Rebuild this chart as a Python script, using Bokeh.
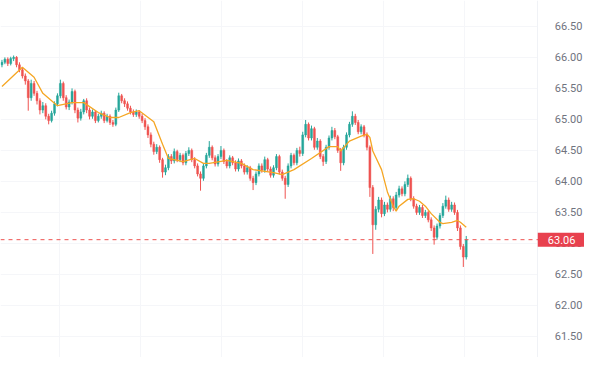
from bokeh.plotting import figure
from bokeh.models import (ColumnDataSource, FixedTicker, PrintfTickFormatter, Span, Label,
                          BoxAnnotation)
from bokeh.embed import file_html
from bokeh.resources import INLINE

# ---- data ----
first_open = 65.88
closes = [
    65.92, 65.97, 65.90, 65.98, 66.00, 65.88, 65.80, 65.70, 65.62, 65.35,
    65.58, 65.42, 65.30, 65.15, 65.22, 65.05, 64.98, 65.10, 65.25, 65.38,
    65.58, 65.35, 65.20, 65.28, 65.45, 65.15, 65.02, 65.12, 65.30, 65.15,
    65.05, 65.12, 64.98, 65.05, 65.10, 64.98, 65.05, 64.95, 64.92, 65.15,
    65.38, 65.30, 65.25, 65.18, 65.12, 65.08, 65.12, 65.05, 64.98, 64.88,
    64.75, 64.60, 64.48, 64.55, 64.35, 64.15, 64.22, 64.40, 64.33, 64.48,
    64.35, 64.42, 64.30, 64.45, 64.50, 64.35, 64.25, 64.12, 64.05, 64.25,
    64.42, 64.55, 64.38, 64.28, 64.40, 64.50, 64.32, 64.25, 64.38, 64.30,
    64.20, 64.33, 64.25, 64.15, 64.22, 64.05, 63.98, 64.12, 64.25, 64.18,
    64.35, 64.20, 64.10, 64.22, 64.40, 64.15, 64.05, 63.95, 64.25, 64.42,
    64.30, 64.50, 64.45, 64.75, 64.92, 64.70, 64.85, 64.55, 64.65, 64.40,
    64.32, 64.55, 64.70, 64.82, 64.72, 64.50, 64.30, 64.55, 64.75, 64.92,
    65.05, 64.95, 64.80, 64.88, 64.75, 64.55, 63.90, 63.30, 63.55, 63.70,
    63.48, 63.62, 63.55, 63.72, 63.58, 63.78, 63.88, 63.80, 63.95, 64.05,
    63.72, 63.60, 63.50, 63.58, 63.45, 63.50, 63.38, 63.25, 63.10, 63.28,
    63.45, 63.60, 63.70, 63.55, 63.62, 63.50, 63.25, 62.95, 62.78, 63.06,
]
highs = [
    65.96, 66.00, 66.00, 66.01, 66.03, 66.02, 65.92, 65.84, 65.74, 65.65,
    65.64, 65.62, 65.46, 65.34, 65.28, 65.26, 65.09, 65.14, 65.29, 65.42,
    65.64, 65.61, 65.39, 65.32, 65.50, 65.48, 65.19, 65.17, 65.33, 65.34,
    65.19, 65.16, 65.15, 65.09, 65.14, 65.13, 65.09, 65.08, 64.99, 65.19,
    65.43, 65.41, 65.34, 65.29, 65.22, 65.16, 65.16, 65.15, 65.09, 65.02,
    64.92, 64.79, 64.64, 64.60, 64.58, 64.38, 64.27, 64.44, 64.44, 64.53,
    64.51, 64.46, 64.45, 64.49, 64.55, 64.53, 64.39, 64.29, 64.16, 64.29,
    64.46, 64.65, 64.58, 64.42, 64.44, 64.57, 64.53, 64.36, 64.42, 64.41,
    64.34, 64.37, 64.36, 64.29, 64.26, 64.25, 64.09, 64.16, 64.29, 64.29,
    64.40, 64.38, 64.24, 64.26, 64.44, 64.43, 64.19, 64.09, 64.29, 64.46,
    64.45, 64.54, 64.56, 64.80, 64.99, 64.95, 64.90, 64.88, 64.70, 64.68,
    64.44, 64.59, 64.74, 64.88, 64.86, 64.75, 64.54, 64.59, 64.79, 64.96,
    65.13, 65.09, 64.99, 64.92, 64.91, 64.79, 64.58, 63.94, 63.60, 63.75,
    63.74, 63.67, 63.66, 63.77, 63.76, 63.83, 63.93, 63.92, 64.00, 64.11,
    64.08, 63.76, 63.64, 63.62, 63.62, 63.54, 63.53, 63.42, 63.29, 63.32,
    63.49, 63.65, 63.77, 63.74, 63.67, 63.66, 63.54, 63.29, 62.99, 63.12,
]
lows = [
    65.84, 65.89, 65.86, 65.87, 65.94, 65.84, 65.76, 65.66, 65.56, 65.14,
    65.30, 65.38, 65.24, 65.08, 65.10, 65.00, 64.92, 64.95, 65.06, 65.21,
    65.34, 65.30, 65.16, 65.15, 65.24, 65.10, 64.95, 64.98, 65.08, 65.10,
    65.00, 65.01, 64.94, 64.95, 65.01, 64.94, 64.95, 64.91, 64.88, 64.89,
    65.12, 65.26, 65.20, 65.14, 65.08, 65.04, 65.04, 65.01, 64.94, 64.83,
    64.70, 64.55, 64.43, 64.44, 64.30, 64.06, 64.10, 64.18, 64.28, 64.29,
    64.31, 64.31, 64.26, 64.26, 64.41, 64.31, 64.21, 64.08, 63.85, 64.01,
    64.21, 64.38, 64.34, 64.24, 64.24, 64.36, 64.28, 64.21, 64.21, 64.26,
    64.16, 64.16, 64.21, 64.11, 64.11, 64.01, 63.86, 63.94, 64.08, 64.14,
    64.14, 64.16, 64.06, 64.06, 64.18, 64.11, 64.01, 63.72, 63.91, 64.21,
    64.26, 64.26, 64.40, 64.41, 64.71, 64.66, 64.66, 64.51, 64.51, 64.36,
    64.25, 64.28, 64.51, 64.66, 64.68, 64.46, 64.17, 64.26, 64.51, 64.71,
    64.88, 64.91, 64.76, 64.76, 64.71, 64.50, 63.75, 62.83, 63.22, 63.50,
    63.42, 63.44, 63.50, 63.51, 63.52, 63.54, 63.74, 63.76, 63.76, 63.91,
    63.68, 63.56, 63.46, 63.46, 63.41, 63.41, 63.34, 63.20, 62.98, 63.06,
    63.24, 63.41, 63.56, 63.51, 63.51, 63.46, 63.20, 62.90, 62.62, 62.74,
]
opens = [first_open] + closes[:-1]

# moving-average line, read at these candle positions
ma_index = [0, 7, 11, 14, 19, 24, 28, 33, 37, 40, 44, 47, 52, 55, 57, 62, 66, 69,
            71, 77, 82, 86, 93, 96, 100, 106, 112, 115, 116, 119, 123, 125, 126,
            127, 130, 132, 134, 135, 136, 139, 141, 143, 145, 147, 150, 151, 154,
            156, 157, 159]
ma_values = [65.53, 65.84, 65.68, 65.42, 65.22, 65.27, 65.27, 65.11, 65.03, 65.03,
             65.11, 65.14, 64.96, 64.60, 64.37, 64.32, 64.37, 64.29, 64.29, 64.34,
             64.29, 64.19, 64.14, 64.11, 64.19, 64.37, 64.56, 64.56, 64.49, 64.65,
             64.73, 64.76, 64.71, 64.49, 64.19, 63.83, 63.60, 63.52, 63.60, 63.71,
             63.72, 63.68, 63.60, 63.48, 63.34, 63.32, 63.34, 63.37, 63.34, 63.26]

last_price = 63.06
y_ticks = [61.5, 62.0, 62.5, 63.0, 63.5, 64.0, 64.5, 65.0, 65.5, 66.0, 66.5]

# ---- styles / layout ----
UP = "#26a69a"
DOWN = "#ef5350"
MA_COLOR = "#f5a623"
GRID = "#f5f6f9"
TEXT = "#70737e"
X_END = 199.5      # right edge of the whole picture in candle units
AXIS_AT = 183.5    # where the price scale begins

idx = list(range(len(closes)))
up = [c >= o for o, c in zip(opens, closes)]


def pick(vals, want):
    return [v for v, u in zip(vals, up) if u == want]


src_up = ColumnDataSource(dict(x=pick(idx, True), o=pick(opens, True), c=pick(closes, True),
                               h=pick(highs, True), l=pick(lows, True)))
src_dn = ColumnDataSource(dict(x=pick(idx, False), o=pick(opens, False), c=pick(closes, False),
                               h=pick(highs, False), l=pick(lows, False)))

p = figure(width=584, height=357, output_backend="svg", toolbar_location=None,
           x_range=(-0.5, X_END), y_range=(61.16, 66.917),
           y_axis_location="right", min_border_left=0, min_border_top=0,
           min_border_bottom=0, min_border_right=0)
p.outline_line_color = None
p.background_fill_color = "white"
p.border_fill_color = "white"

p.xaxis.visible = False
p.xgrid.ticker = FixedTicker(ticks=[19.8, 47.5, 75.2, 102.9, 130.6, 158.3])
p.xgrid.grid_line_color = GRID
p.ygrid.grid_line_color = GRID

ax = p.yaxis[0]
ax.fixed_location = AXIS_AT
ax.ticker = FixedTicker(ticks=y_ticks)
ax.formatter = PrintfTickFormatter(format="%.2f")
ax.major_tick_line_color = None
ax.minor_tick_line_color = None
ax.axis_line_color = "#f0f2f6"
ax.major_label_text_color = TEXT
ax.major_label_text_font = "Roboto"
ax.major_label_text_font_size = "11px"
ax.major_label_standoff = 11

# blank the price-scale column so grid lines stop at the scale
p.add_layout(BoxAnnotation(left=AXIS_AT, fill_color="white", fill_alpha=1.0,
                           line_color=None, level="underlay"))

p.add_layout(Span(location=last_price, dimension="width", line_color=DOWN,
                  line_dash="4 4", line_width=1))

for src, col in ((src_up, UP), (src_dn, DOWN)):
    p.segment(x0="x", y0="h", x1="x", y1="l", source=src, line_color=col, line_width=1)
    p.vbar(x="x", bottom="o", top="c", width=0.65, source=src,
           fill_color=col, line_color=col, line_width=0.5)

p.line(ma_index, ma_values, line_color=MA_COLOR, line_width=1.3)

p.add_layout(Label(x=AXIS_AT, y=last_price, text=f"{last_price:.2f}",
                   text_align="left", text_baseline="middle",
                   text_color="white", text_font="Roboto", text_font_size="11px",
                   background_fill_color="#e8414e", background_fill_alpha=1.0,
                   padding=dict(left=10, right=14, top=3, bottom=3)))

open("out.html", "w").write(file_html(p, INLINE))
